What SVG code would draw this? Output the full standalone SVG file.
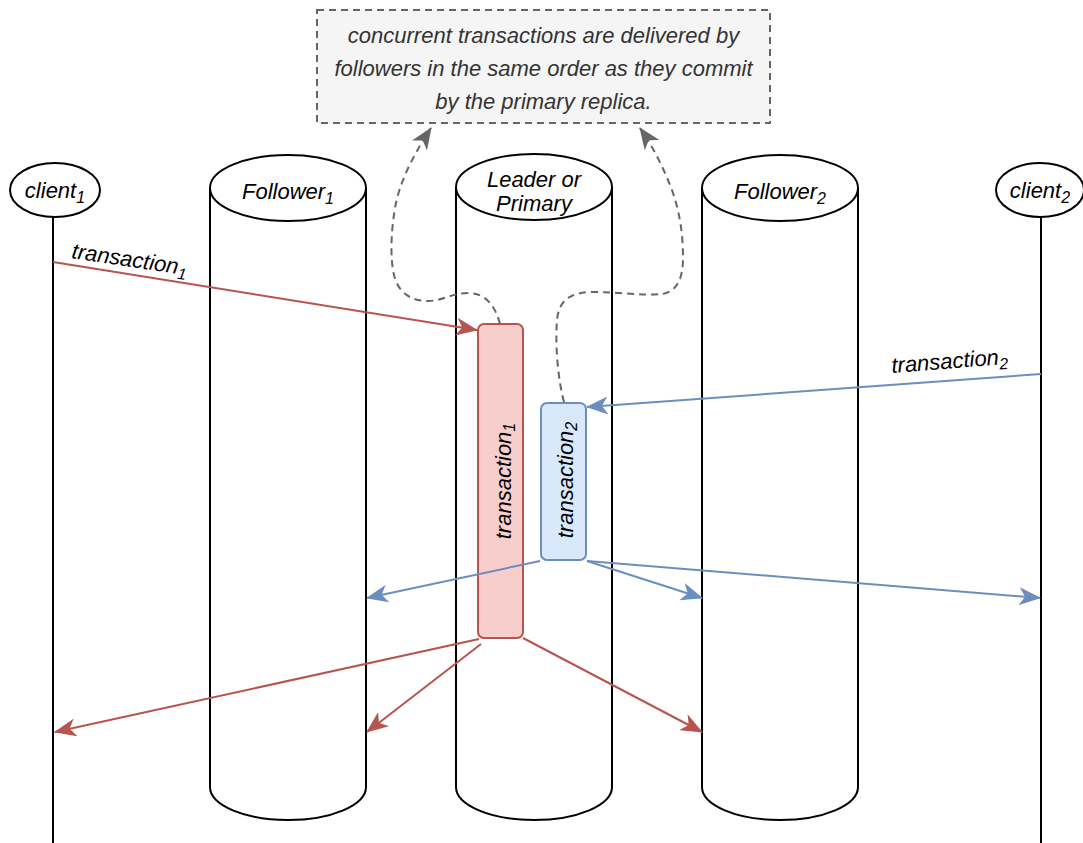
<svg xmlns="http://www.w3.org/2000/svg" width="1083" height="843" viewBox="0 0 1083 843">
<style>
.lbl{font-family:"Liberation Sans",Arial,sans-serif;font-style:italic;font-size:22px;fill:#000}
.note{font-family:"Liberation Sans",Arial,sans-serif;font-style:italic;font-size:22px;fill:#333}
.sub{font-size:16px}
.cyl{fill:#fff;stroke:#000;stroke-width:2}
.life{stroke:#000;stroke-width:2;fill:none}
.red{stroke:#b85450;stroke-width:2;fill:none;marker-end:url(#ar)}
.blue{stroke:#6c8ebf;stroke-width:2;fill:none;marker-end:url(#ab)}
.dash{stroke:#666;stroke-width:2;fill:none;stroke-dasharray:7 5;marker-end:url(#ag)}
</style>
<defs>
<marker id="ar" viewBox="0 0 22 18" refX="21" refY="9" markerWidth="22" markerHeight="18" markerUnits="userSpaceOnUse" orient="auto"><path d="M0,0 L22,9 L0,18 L6,9 Z" fill="#b85450"/></marker>
<marker id="ab" viewBox="0 0 22 18" refX="21" refY="9" markerWidth="22" markerHeight="18" markerUnits="userSpaceOnUse" orient="auto"><path d="M0,0 L22,9 L0,18 L6,9 Z" fill="#6c8ebf"/></marker>
<marker id="ag" viewBox="0 0 22 18" refX="21" refY="9" markerWidth="22" markerHeight="18" markerUnits="userSpaceOnUse" orient="auto"><path d="M0,0 L22,9 L0,18 L6,9 Z" fill="#666"/></marker>
</defs>
<rect width="1083" height="843" fill="#fff"/>

<g id="note">
<rect x="317" y="10" width="453" height="113" fill="#f5f5f5" stroke="#666" stroke-width="2" stroke-dasharray="7 5"/>
<text class="note" text-anchor="middle" x="543.5" y="43">concurrent transactions are delivered by</text>
<text class="note" text-anchor="middle" x="543.5" y="76">followers in the same order as they commit</text>
<text class="note" text-anchor="middle" x="543.5" y="109">by the primary replica.</text>
</g>

<g id="follower1">
<path class="cyl" d="M210,188 L210,787 A78,33 0 0 0 366,787 L366,188"/>
<ellipse class="cyl" cx="288" cy="188" rx="78" ry="33"/>
<text class="lbl" text-anchor="middle" x="288" y="199">Follower<tspan class="sub" dy="5">1</tspan></text>
</g>

<g id="leader">
<path class="cyl" d="M456,187 L456,787 A78,33 0 0 0 612,787 L612,187"/>
<ellipse class="cyl" cx="534" cy="187" rx="78" ry="33"/>
<text class="lbl" text-anchor="middle" x="534" y="187">Leader or</text>
<text class="lbl" text-anchor="middle" x="534" y="211">Primary</text>
</g>

<g id="follower2">
<path class="cyl" d="M702,188 L702,787 A78,33 0 0 0 858,787 L858,188"/>
<ellipse class="cyl" cx="780" cy="188" rx="78" ry="33"/>
<text class="lbl" text-anchor="middle" x="780" y="199">Follower<tspan class="sub" dy="5">2</tspan></text>
</g>

<g id="client1">
<line class="life" x1="53" y1="217" x2="53" y2="843"/>
<ellipse cx="55" cy="190" rx="45" ry="27" fill="#fff" stroke="#000" stroke-width="2"/>
<text class="lbl" text-anchor="middle" x="55" y="198">client<tspan class="sub" dy="5">1</tspan></text>
</g>

<g id="client2">
<line class="life" x1="1041" y1="217" x2="1041" y2="843"/>
<ellipse cx="1040" cy="190" rx="44" ry="27" fill="#fff" stroke="#000" stroke-width="2"/>
<text class="lbl" text-anchor="middle" x="1040" y="198">client<tspan class="sub" dy="5">2</tspan></text>
</g>

<g id="tx1">
<rect x="478" y="324" width="45" height="314" rx="6" fill="#f8cecc" stroke="#b85450" stroke-width="2"/>
<text class="lbl" text-anchor="middle" transform="translate(511,481) rotate(-90)">transaction<tspan class="sub" dy="4">1</tspan></text>
</g>

<g id="tx2">
<rect x="541" y="403" width="45" height="157" rx="6" fill="#dae8fc" stroke="#6c8ebf" stroke-width="2"/>
<text class="lbl" text-anchor="middle" transform="translate(573,480) rotate(-90)">transaction<tspan class="sub" dy="4">2</tspan></text>
</g>

<g id="connectors">
<path class="red" d="M53,262 L477,330"/>
<text class="lbl" transform="translate(71,258) rotate(8.5)">transaction<tspan class="sub" dy="5">1</tspan></text>
<path class="blue" d="M1041,374 L587,407"/>
<text class="lbl" transform="translate(892,373) rotate(-4.5)">transaction<tspan class="sub" dy="5">2</tspan></text>
<path class="blue" d="M540,561 L367,598"/>
<path class="blue" d="M587,561 L702,598"/>
<path class="blue" d="M587,561 L1040,598"/>
<path class="red" d="M479,639 L55,732"/>
<path class="red" d="M481,644 L367,732"/>
<path class="red" d="M523,638 L702,732"/>
<path class="dash" d="M500,324 C495,305 485,293 468,293 C452,293 442,301 428,301 C410,301 398,292 394,275 C390,258 391,232 395,208 C399,185 410,160 431,128"/>
<path class="dash" d="M564,402 C558,380 555,345 557,320 C559,300 570,293 590,292 C620,292 645,296 662,294 C676,292 683,280 683,258 C683,235 680,210 670,185 C662,165 652,145 640,128"/>
</g>
</svg>
